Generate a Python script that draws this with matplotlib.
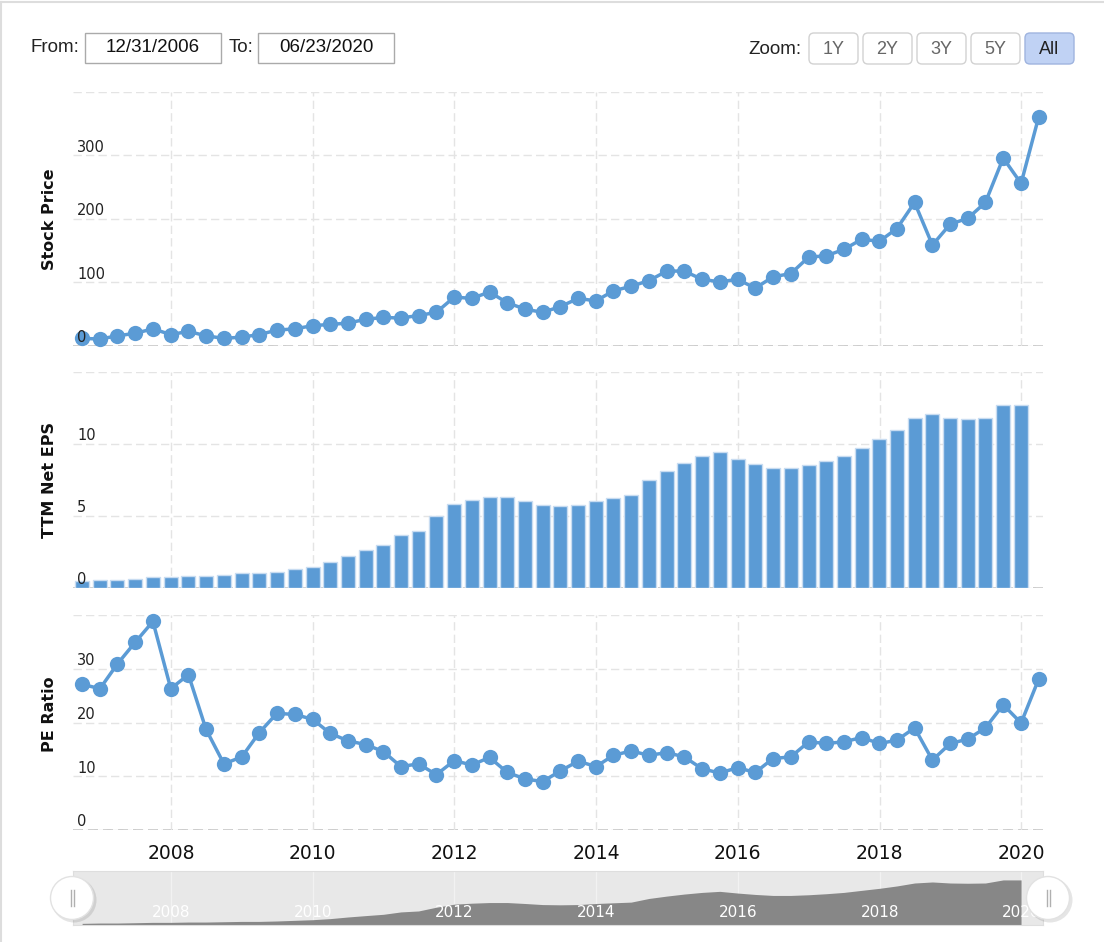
import matplotlib
matplotlib.use('Agg')
import matplotlib.pyplot as plt
from matplotlib.patches import FancyBboxPatch, Rectangle, Circle
import pandas as pd

# quarterly data, Sep 2006 .. Mar 2020
dates = pd.date_range('2006-09-30', periods=55, freq='QE')
price = [12, 11, 16, 20, 27, 18, 23, 16, 12, 14, 18, 25, 27, 32, 34, 36, 42, 45, 44, 48,
         53, 77, 75, 85, 68, 58, 53, 62, 75, 71, 87, 94, 103, 118, 118, 105, 101, 105, 91,
         109, 114, 140, 142, 152, 168, 165, 185, 226, 159, 192, 201, 226, 296, 256, 361]
eps = [0.46, 0.55, 0.55, 0.64, 0.74, 0.74, 0.83, 0.83, 0.92, 1.01, 1.01, 1.13, 1.31, 1.49,
       1.79, 2.25, 2.64, 3.01, 3.68, 3.95, 5.01, 5.86, 6.14, 6.32, 6.32, 6.05, 5.75, 5.68,
       5.75, 6.05, 6.25, 6.44, 7.47, 8.14, 8.71, 9.17, 9.47, 8.99, 8.60, 8.32, 8.32, 8.51,
       8.80, 9.17, 9.75, 10.32, 10.99, 11.82, 12.11, 11.82, 11.75, 11.82, 12.69, 12.69]
pe = [27.1, 26.3, 30.9, 34.9, 38.8, 26.3, 28.9, 18.7, 12.3, 13.6, 18.1, 21.7, 21.5, 20.6,
      18.0, 16.6, 15.9, 14.6, 11.8, 12.3, 10.3, 12.9, 12.1, 13.5, 10.7, 9.5, 9.0, 11.0,
      12.8, 11.8, 13.9, 14.7, 13.9, 14.4, 13.6, 11.4, 10.6, 11.6, 10.7, 13.3, 13.6, 16.4,
      16.1, 16.4, 17.2, 16.1, 16.7, 19.0, 13.0, 16.1, 16.9, 19.0, 23.3, 19.9, 28.1]
years = [2008, 2010, 2012, 2014, 2016, 2018, 2020]
zoom_buttons = ['1Y', '2Y', '3Y', '5Y', 'All']

BLUE = '#5b9bd5'
GRID = '#e4e4e4'
W, H = 1104, 942

fig = plt.figure(figsize=(W / 100, H / 100), dpi=100)


def box(l, t, r, b):
    return [l / W, 1 - b / H, (r - l) / W, (b - t) / H]


xmin = pd.Timestamp('2006-08-14')
xmax = pd.Timestamp('2020-04-22')
year_ticks = [pd.Timestamp(f'{y}-01-01') for y in years]


def style(ax, top, ticks):
    ax.set_xlim(xmin, xmax)
    ax.set_ylim(0, top)
    for s in ax.spines.values():
        s.set_visible(False)
    ax.set_axisbelow(True)
    ax.set_xticks(year_ticks)
    ax.set_yticks(ticks + [top])
    ax.grid(True, color=GRID, linestyle=(0, (6, 3)), linewidth=1)
    ax.tick_params(length=0, labelleft=False, labelbottom=False)
    ax.axhline(0, color='#c4c4c4', linestyle=(0, (6, 3)), lw=1.2, zorder=0.5)
    # y labels sit inside the plot, above their gridline, drawn over the series
    for t in ticks:
        ax.annotate(str(t), xy=(0, t), xycoords=('axes fraction', 'data'),
                    xytext=(3, 0.5), textcoords='offset points', ha='left', va='bottom',
                    fontsize=10.5, color='#222222', zorder=6)


ax1 = fig.add_axes(box(73, 92, 1043, 346))
style(ax1, 400, [0, 100, 200, 300])
ax1.plot(dates, price, color=BLUE, lw=2.5, marker='o', ms=11, mew=0, clip_on=False, zorder=3)

ax2 = fig.add_axes(box(73, 372, 1043, 588))
style(ax2, 15, [0, 5, 10])
ax2.bar(dates[:len(eps)], eps, width=72, color=BLUE, edgecolor='#c8dcf1', linewidth=1, zorder=2)

ax3 = fig.add_axes(box(73, 615, 1043, 830))
style(ax3, 40, [0, 10, 20, 30])
ax3.plot(dates, pe, color=BLUE, lw=2.5, marker='o', ms=11, mew=0, clip_on=False, zorder=3)
ax3.tick_params(labelbottom=True, pad=10, labelsize=13.5, labelcolor='#111111')
ax3.set_xticklabels([str(y) for y in years])

labels = [('Stock Price', 219), ('TTM Net EPS', 480), ('PE Ratio', 714)]
for text, yc in labels:
    fig.text(50 / W, 1 - yc / H, text, rotation=90, ha='center', va='center',
             fontsize=11.5, fontweight='bold', color='#111111')

# navigator
nav = fig.add_axes(box(73, 871, 1043, 925))
nav.set_facecolor('#e8e8e8')
nav.set_xlim(xmin, xmax)
nav.set_ylim(0, 15.2)
nav.fill_between(dates[:len(eps)], eps, color='#878787', lw=0, zorder=2)
for s in nav.spines.values():
    s.set_color('#dedede')
nav.set_xticks(year_ticks)
nav.set_yticks([])
nav.grid(True, axis='x', color='#f2f2f2', lw=1, zorder=1)
nav.set_axisbelow(True)
nav.tick_params(length=0, labelbottom=False)
for d, y in zip(year_ticks, years):
    nav.annotate(str(y), xy=(d, 0.24), xycoords=('data', 'axes fraction'),
                 ha='center', va='center', fontsize=11, color='white', zorder=5)

# overlay for header, handles and frame
ov = fig.add_axes([0, 0, 1, 1], zorder=10)
ov.set_xlim(0, W)
ov.set_ylim(H, 0)
ov.axis('off')
ov.plot([0, W], [2, 2], color='#dddddd', lw=1.5)
ov.plot([1, 1], [2, H], color='#dddddd', lw=1.5)

hfont = dict(fontsize=13.5, family='Liberation Sans', va='center')
ov.text(31, 48, 'From:', ha='left', color='#222222', **hfont)
ov.add_patch(Rectangle((85, 33), 136, 30, fc='white', ec='#aaaaaa', lw=1))
ov.text(153, 48, '12/31/2006', ha='center', color='#111111', **hfont)
ov.text(229, 48, 'To:', ha='left', color='#222222', **hfont)
ov.add_patch(Rectangle((258, 33), 136, 30, fc='white', ec='#aaaaaa', lw=1))
ov.text(326, 48, '06/23/2020', ha='center', color='#111111', **hfont)
ov.text(748, 49, 'Zoom:', ha='left', color='#222222', **hfont)

bx = [809, 863, 917, 971, 1025]
for x, name in zip(bx, zoom_buttons):
    on = name == 'All'
    ov.add_patch(FancyBboxPatch((x, 33), 49, 31, boxstyle='round,pad=0,rounding_size=5',
                                fc='#c0d2f4' if on else 'white',
                                ec='#9fb4df' if on else '#d2d2d2', lw=1))
    ov.text(x + 24.5, 49, name, ha='center', fontsize=13, family='Liberation Sans',
            va='center', color='#222222' if on else '#666666')

for cx in [72, 1048]:
    ov.add_patch(Circle((cx + 2, 900), 22.5, fc='black', alpha=0.10, lw=0))
    ov.add_patch(Circle((cx, 898), 21.5, fc='white', ec='#e2e2e2', lw=1))
    for dx in [-1.5, 1.5]:
        ov.plot([cx + dx, cx + dx], [890, 906], color='#b0b0b0', lw=1)

fig.savefig('out.png', dpi=100)
